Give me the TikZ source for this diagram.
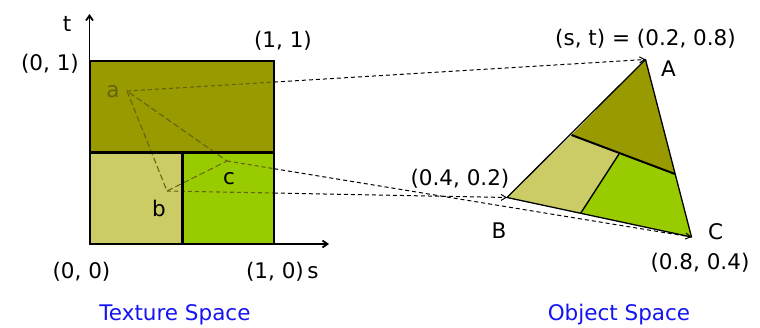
\documentclass[tikz,border=0pt]{standalone}
\usepackage{fontspec}
\setmainfont{DejaVu Sans}
\usetikzlibrary{positioning, arrows.meta}
\definecolor{texdark}{RGB}{153,153,0}
\definecolor{texlight}{RGB}{204,204,102}
\definecolor{texgreen}{RGB}{153,204,0}
\definecolor{guideol}{RGB}{100,100,16}
\definecolor{capblue}{RGB}{20,20,240}
\begin{document}
\begin{tikzpicture}[x=1pt, y=-1pt,
      lbl/.style      = {anchor=base, inner sep=0pt, font=\fontsize{21.5}{26}\selectfont},
      spacelbl/.style = {lbl, text=capblue},
      axis/.style     = {line width=1.8pt, -{Straight Barb[length=5pt, width=7pt]}},
      outline/.style  = {line width=2.2pt, line join=miter},
      guide/.style    = {draw=guideol, line width=1.1pt, dash pattern=on 4pt off 3pt},
      tri/.style      = {draw=guideol, line width=1.1pt, dash pattern=on 6pt off 3pt},
      maparr/.style   = {line width=1pt, dash pattern=on 4pt off 3pt,
                         -{Straight Barb[length=5pt, width=6pt]}}]
    \useasboundingbox (0,0) rectangle (760,327);
    % texture square and sample points
    \coordinate (sqSW) at (90,244);
    \coordinate (sqNE) at (274,61);
    \coordinate (sqSE) at (274,244);
    \coordinate (a) at (127,91);
    \coordinate (b) at (167,191);
    \coordinate (c) at (227,161);
    % object triangle and its inner split points
    \coordinate (A)  at (645.5,59.5);
    \coordinate (B)  at (507,197.5);
    \coordinate (C)  at (691.5,237);
    \coordinate (P1) at (571.5,135);
    \coordinate (P2) at (675,174);
    \coordinate (Q)  at (619,154);
    \coordinate (R)  at (580.5,213.5);
    % fills
    \fill[texdark]  (90,61) rectangle (274,152.5);
    \fill[texlight] (90,152.5) rectangle (182.5,244);
    \fill[texgreen] (182.5,152.5) rectangle (274,244);
    \fill[texdark]  (A) -- (P1) -- (P2) -- cycle;
    \fill[texlight] (P1) -- (Q) -- (R) -- (B) -- cycle;
    \fill[texgreen] (Q) -- (P2) -- (C) -- (R) -- cycle;
    % dashed triangle a-b-c and the mapping lines
    \draw[tri] (a) -- (b) -- (c) -- cycle;
    \coordinate (ea) at (intersection of a--A and sqSE--sqNE);
    \coordinate (eb) at (intersection of b--B and sqSE--sqNE);
    \coordinate (ec) at (intersection of c--C and sqSE--sqNE);
    \draw[guide] (a) -- (ea);
    \draw[guide] (b) -- (eb);
    \draw[guide] (c) -- (ec);
    \draw[maparr] (ea) -- (A);
    \draw[maparr] (eb) -- (B);
    \draw[maparr] (ec) -- (C);
    % outlines
    \draw[outline] (sqSW) rectangle (sqNE);
    \draw[outline] (90,152.5) -- (274,152.5);
    \draw[outline] (182.5,152.5) -- (182.5,244);
    \draw[line width=1.3pt, line join=round] (A) -- (B) -- (C) -- cycle;
    \draw[line width=2pt] (P1) -- (P2);
    \draw[line width=1.4pt] (Q) -- (R);
    % axes
    \draw[axis] (89.5,244) -- (89.5,14);
    \draw[axis] (89.5,244) -- (329,244);
    % labels
    \node[lbl]                    (lt)   at (67,31.5)   {t};
    \node[lbl]                    (ls)   at (313,278)   {s};
    \node[lbl]                    (l01)  at (50,70)     {(0, 1)};
    \node[lbl]                    (l11)  at (283,47)    {(1, 1)};
    \node[lbl]                    (l00)  at (81.5,278)  {(0, 0)};
    \node[lbl]                    (l10)  at (275,278)   {(1, 0)};
    \node[lbl, text=guideol]      (la)   at (113,97)    {a};
    \node[lbl]                    (lb)   at (159,216.5) {b};
    \node[lbl]                    (lc)   at (229,184)   {c};
    \node[lbl]                    (lst)  at (645.5,45)  {(s, t) = (0.2, 0.8)};
    \node[lbl]                    (lA)   at (668.5,76.5) {A};
    \node[lbl]                    (l42)  at (460,185)   {(0.4, 0.2)};
    \node[lbl]                    (lB)   at (499,238.5) {B};
    \node[lbl]                    (lC)   at (715.5,239) {C};
    \node[lbl]                    (l84)  at (700,269.5) {(0.8, 0.4)};
    \node[spacelbl]               (ltex) at (175,320)   {Texture Space};
    \node[spacelbl]               (lobj) at (619,320)   {Object Space};
  \end{tikzpicture}
\end{document}
